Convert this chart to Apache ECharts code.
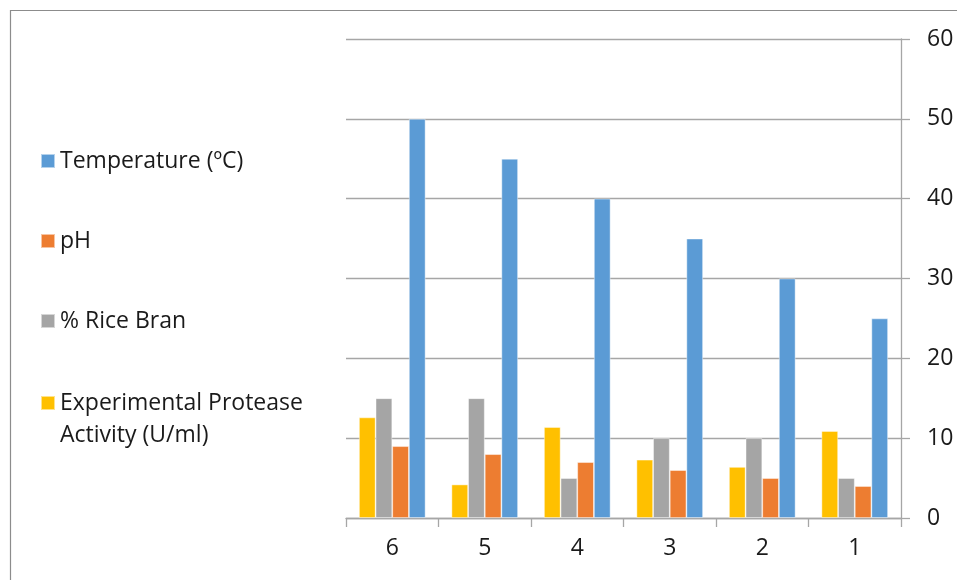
<!DOCTYPE html>
<html>
<head>
<meta charset="utf-8">
<script src="https://cdn.jsdelivr.net/npm/echarts@6/dist/echarts.min.js"></script>
<style>
  html, body { margin: 0; padding: 0; background: #fff; }
  #chart { width: 957px; height: 580px; }
</style>
</head>
<body>
<div id="chart"></div>
<script>
// Run numbers, listed in the order they appear along the axis
const categories = ['6', '5', '4', '3', '2', '1'];

const proteaseActivity = [12.6, 4.2, 11.4, 7.3, 6.4, 10.9];
const riceBran = [15, 15, 5, 10, 10, 5];
const pH = [9, 8, 7, 6, 5, 4];
const temperature = [50, 45, 40, 35, 30, 25];

const yTicks = { min: 0, max: 60, step: 10 };

const FONT = 'Open Sans';
const TEXT = '#1a1a1a';
const GRID_GREY = '#a6a6a6';
const FS = 23;

const chart = echarts.init(document.getElementById('chart'), null, { renderer: 'canvas' });

function barSeries(name, data, color) {
  return {
    name: name,
    type: 'bar',
    data: data,
    barGap: '0%',
    barCategoryGap: '28%',
    itemStyle: { color: color, borderColor: 'rgba(255,255,255,0.55)', borderWidth: 0.8 },
    emphasis: { disabled: true },
    animation: false
  };
}

const legendText = { fontFamily: FONT, fontSize: FS, color: TEXT };

chart.setOption({
  backgroundColor: '#fff',
  animation: false,
  graphic: [{
    type: 'rect',
    shape: { x: 10.5, y: 10.5, width: 2000, height: 2000 },
    style: { fill: 'none', stroke: '#8c8c8c', lineWidth: 1.2 },
    silent: true
  }],
  legend: [{
    orient: 'vertical',
    left: 40,
    top: 146,
    padding: 0,
    itemWidth: 14,
    itemHeight: 14,
    itemGap: 50,
    icon: 'rect',
    selectedMode: false,
    data: ['Temperature (ºC)', 'pH', '% Rice Bran'],
    textStyle: Object.assign({ lineHeight: 30 }, legendText)
  }, {
    orient: 'vertical',
    left: 40,
    top: 355,
    padding: 0,
    itemWidth: 14,
    itemHeight: 14,
    icon: 'rect',
    selectedMode: false,
    data: ['Experimental Protease Activity (U/ml)'],
    // empty first line keeps the icon level with the first printed line
    formatter: function () { return ' \nExperimental Protease\nActivity (U/ml)'; },
    textStyle: Object.assign({ lineHeight: 32 }, legendText)
  }],
  grid: { left: 346, right: 56, top: 39, bottom: 62, containLabel: false },
  xAxis: {
    type: 'category',
    data: categories,
    boundaryGap: true,
    axisLine: { show: true, lineStyle: { color: GRID_GREY, width: 1.3 } },
    axisTick: { show: true, length: 9, lineStyle: { color: GRID_GREY, width: 1.3 } },
    axisLabel: { fontFamily: FONT, fontSize: FS, color: TEXT, margin: 19 },
    splitLine: { show: false }
  },
  yAxis: {
    type: 'value',
    position: 'right',
    min: yTicks.min,
    max: yTicks.max,
    interval: yTicks.step,
    axisLine: { show: true, lineStyle: { color: GRID_GREY, width: 1.3 } },
    axisTick: { show: true, inside: false, length: 9, lineStyle: { color: GRID_GREY, width: 1.3 } },
    axisLabel: { fontFamily: FONT, fontSize: FS, color: TEXT, margin: 26, align: 'left' },
    splitLine: { show: true, lineStyle: { color: GRID_GREY, width: 1.3 } }
  },
  series: [
    barSeries('Experimental Protease Activity (U/ml)', proteaseActivity, '#FFC000'),
    barSeries('% Rice Bran', riceBran, '#A5A5A5'),
    barSeries('pH', pH, '#ED7D31'),
    barSeries('Temperature (ºC)', temperature, '#5B9BD5')
  ]
});
</script>
</body>
</html>
